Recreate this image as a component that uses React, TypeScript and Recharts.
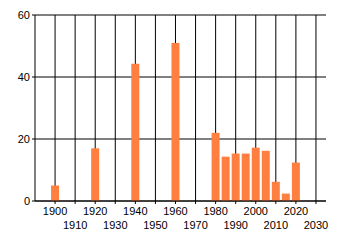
import { BarChart, Bar, XAxis, YAxis, CartesianGrid } from 'recharts';

const years = [1900, 1920, 1940, 1960, 1980, 1985, 1990, 1995, 2000, 2005, 2010, 2015, 2020];
const counts = [5, 17, 44.3, 51, 22, 14.3, 15.3, 15.3, 17.2, 16.2, 6.2, 2.4, 12.4];
const xTicks = [1900, 1910, 1920, 1930, 1940, 1950, 1960, 1970, 1980, 1990, 2000, 2010, 2020, 2030];
const yTicks = [0, 20, 40, 60];
const xDomain = [1890, 2035];

const data = years.map((year, i) => ({ year, count: counts[i] }));

const font = '"Liberation Sans", Arial, sans-serif';

// alternate labels between two rows so they don't collide
function StaggeredTick(props: any) {
  const { x, y, payload, index } = props;
  const row = index % 2 === 1 ? 1 : 0;
  return (
    <text x={x} y={y + 9 + row * 14} textAnchor="middle" fontSize={11} fontFamily={font} fill="#000">
      {payload.value}
    </text>
  );
}

// only the tick positions, no line on the right edge
const verticalLines = ({ xAxis, offset }: any) =>
  xTicks.map((t) => {
    if (xAxis && typeof xAxis.scale === 'function') return xAxis.scale(t);
    return offset.left + ((t - xDomain[0]) / (xDomain[1] - xDomain[0])) * offset.width;
  });

export default function App() {
  return (
    <div style={{ position: 'absolute', left: 0, top: 0, background: '#fff' }}>
      <BarChart width={340} height={245} data={data} margin={{ top: 15, right: 14, bottom: 4, left: 0 }}>
        <CartesianGrid stroke="#000" strokeWidth={1} verticalCoordinatesGenerator={verticalLines} />
        <XAxis
          dataKey="year"
          type="number"
          domain={xDomain}
          ticks={xTicks}
          interval={0}
          allowDataOverflow
          height={40}
          tick={<StaggeredTick />}
          tickSize={3}
          tickLine={{ stroke: '#000' }}
          axisLine={{ stroke: '#000' }}
        />
        <YAxis
          domain={[0, 60]}
          ticks={yTicks}
          width={35}
          tickSize={3}
          tickMargin={2}
          tickLine={{ stroke: '#000' }}
          axisLine={{ stroke: '#000' }}
          tick={{ fontSize: 11, fontFamily: font, fill: '#000' }}
        />
        <Bar dataKey="count" fill="#ff7f40" barSize={8} isAnimationActive={false} />
      </BarChart>
    </div>
  );
}
